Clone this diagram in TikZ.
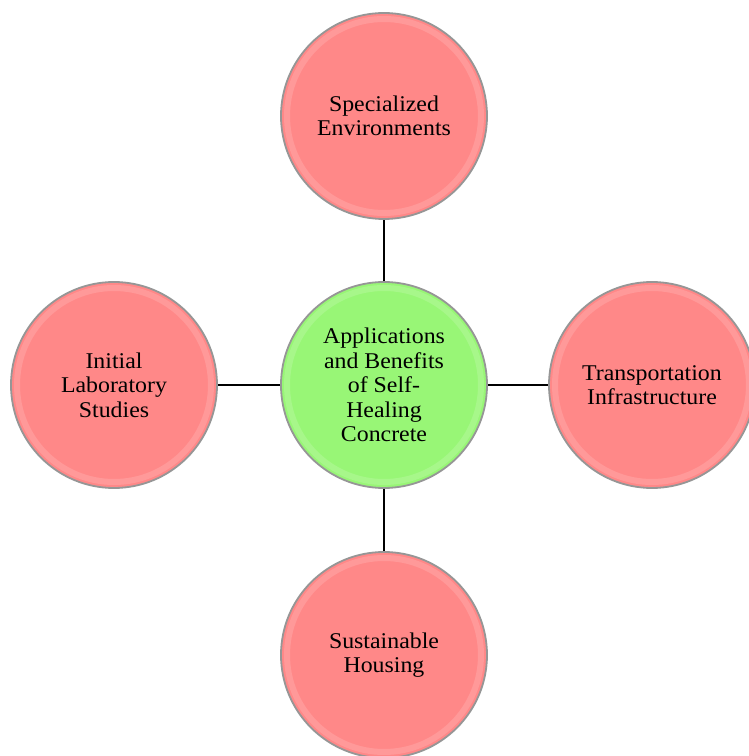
\documentclass[tikz,border=0pt]{standalone}
\usepackage{fontspec}
\setmainfont{Liberation Serif}[FakeStretch=1.06]
\definecolor{pinkc}{RGB}{255,136,136}
\definecolor{greenc}{RGB}{152,246,118}
\definecolor{rimc}{RGB}{150,150,150}
\begin{document}
\begin{tikzpicture}[x=1pt,y=1pt,
  bubble/.style={circle, minimum size=206pt, inner sep=0pt, draw=rimc, line width=1.8pt, align=center, font=\fontsize{22.5}{24.5}\selectfont},
  redb/.style={bubble, fill=pinkc},
  greenb/.style={bubble, fill=greenc},
  rim/.style={white, opacity=0.15, line width=6pt},
  link/.style={black, line width=1.6pt}]
\useasboundingbox (0,0) rectangle (748,756);
\node[greenb] (c) at (384,371) {Applications\\and Benefits\\of Self-\\Healing\\Concrete};
\node[redb] (t) at (384,640) {Specialized\\Environments};
\node[redb] (l) at (114,371) {Initial\\Laboratory\\Studies};
\node[redb] (r) at (652,371) {Transportation\\Infrastructure};
\node[redb] (b) at (384,101) {Sustainable\\Housing};
\foreach \n in {c,t,l,r,b} \draw[rim] (\n.center) circle[radius=97pt];
\draw[link] (c) -- (t);
\draw[link] (c) -- (l);
\draw[link] (c) -- (r);
\draw[link] (c) -- (b);
\end{tikzpicture}
\end{document}
